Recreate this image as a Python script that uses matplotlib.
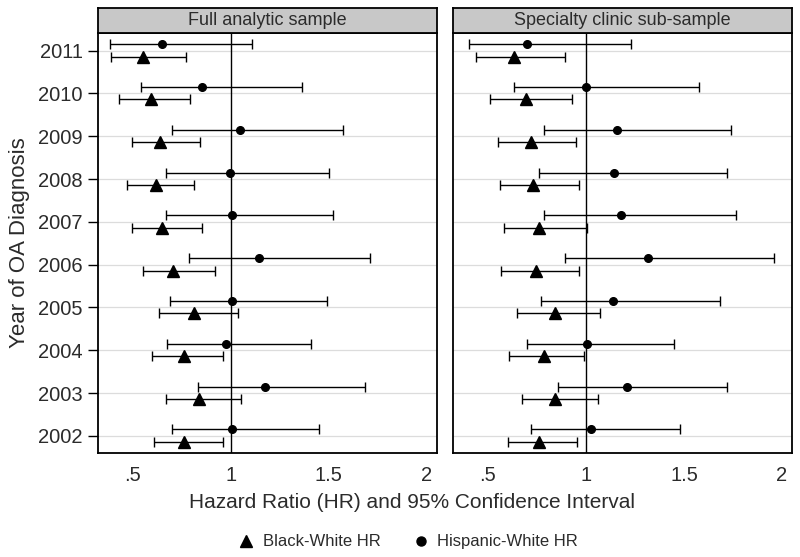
import numpy as np
import matplotlib.pyplot as plt

plt.rcParams['font.family'] = ['Liberation Sans', 'DejaVu Sans']

years = [2011, 2010, 2009, 2008, 2007, 2006, 2005, 2004, 2003, 2002]
panel_titles = ["Full analytic sample", "Specialty clinic sub-sample"]

# Full analytic sample
full_hisp_hr = [0.648, 0.855, 1.048, 0.997, 1.009, 1.146, 1.009, 0.978, 1.175, 1.009]
full_hisp_lo = [0.384, 0.541, 0.702, 0.672, 0.672, 0.786, 0.692, 0.675, 0.833, 0.702]
full_hisp_hi = [1.111, 1.366, 1.575, 1.503, 1.520, 1.711, 1.493, 1.410, 1.685, 1.452]
full_black_hr = [0.551, 0.594, 0.639, 0.621, 0.650, 0.707, 0.813, 0.760, 0.840, 0.760]
full_black_lo = [0.388, 0.430, 0.495, 0.469, 0.495, 0.551, 0.633, 0.599, 0.670, 0.609]
full_black_hi = [0.772, 0.791, 0.844, 0.813, 0.854, 0.922, 1.036, 0.963, 1.051, 0.963]

# Specialty clinic sub-sample
spec_hisp_hr = [0.699, 1.001, 1.157, 1.145, 1.179, 1.318, 1.138, 1.006, 1.210, 1.028]
spec_hisp_lo = [0.402, 0.631, 0.784, 0.760, 0.784, 0.892, 0.772, 0.700, 0.857, 0.719]
spec_hisp_hi = [1.230, 1.578, 1.741, 1.722, 1.768, 1.960, 1.682, 1.451, 1.722, 1.478]
spec_black_hr = [0.632, 0.692, 0.719, 0.731, 0.760, 0.743, 0.841, 0.785, 0.841, 0.760]
spec_black_lo = [0.439, 0.508, 0.551, 0.563, 0.580, 0.568, 0.649, 0.609, 0.673, 0.602]
spec_black_hi = [0.894, 0.930, 0.950, 0.963, 1.003, 0.963, 1.074, 0.991, 1.064, 0.952]

x_ticks = [0.5, 1, 1.5, 2]
x_ticklabels = [".5", "1", "1.5", "2"]

panels = [
    (full_hisp_hr, full_hisp_lo, full_hisp_hi, full_black_hr, full_black_lo, full_black_hi),
    (spec_hisp_hr, spec_hisp_lo, spec_hisp_hi, spec_black_hr, spec_black_lo, spec_black_hi),
]

fig = plt.figure(figsize=(8, 5.57), dpi=100)
text_col = '#2b2b2b'
lefts = [0.1225, 0.5666]
width = 0.4238
bottom = 0.1867
height = 0.754

y = np.array(years, dtype=float)
for i, (hh, hl, hu, bh, bl, bu) in enumerate(panels):
    ax = fig.add_axes([lefts[i], bottom, width, height])
    for yr in years:
        ax.axhline(yr, color='#dcdcdc', lw=0.9, zorder=0)
    ax.axvline(1, color='black', lw=1.0, zorder=1)

    hh, hl, hu = map(np.array, (hh, hl, hu))
    bh, bl, bu = map(np.array, (bh, bl, bu))
    ax.errorbar(hh, y + 0.15, xerr=[hh - hl, hu - hh], fmt='o', color='black',
                ms=5.5, elinewidth=1.0, capsize=3.5, capthick=1.0, zorder=3)
    ax.errorbar(bh, y - 0.14, xerr=[bh - bl, bu - bh], fmt='^', color='black',
                ms=9, elinewidth=1.0, capsize=3.5, capthick=1.0, zorder=3)

    ax.set_xlim(0.323, 2.053)
    ax.set_ylim(2001.6, 2011.41)
    ax.set_xticks(x_ticks)
    ax.set_xticklabels(x_ticklabels)
    ax.tick_params(axis='x', length=0, pad=9, labelsize=14.5, labelcolor=text_col)
    if i == 0:
        ax.set_yticks(years)
        ax.set_yticklabels([str(v) for v in years])
        ax.tick_params(axis='y', length=7, width=1.0, pad=4, labelsize=14.5,
                       labelcolor=text_col)
        ax.set_ylabel("Year of OA Diagnosis", fontsize=16, color=text_col, labelpad=6)
    else:
        ax.set_yticks([])
    for s in ax.spines.values():
        s.set_linewidth(1.3)

    # strip title
    strip = fig.add_axes([lefts[i], bottom + height, width, 25 / 557])
    strip.set_facecolor('#c8c8c8')
    strip.set_xticks([])
    strip.set_yticks([])
    for s in strip.spines.values():
        s.set_linewidth(1.3)
    strip.text(0.5, 0.5, panel_titles[i], ha='center', va='center',
               fontsize=13, color=text_col, transform=strip.transAxes)

fig.text(0.515, 0.098, "Hazard Ratio (HR) and 95% Confidence Interval",
         ha='center', va='center', fontsize=15, color=text_col)

h1 = plt.Line2D([], [], marker='^', color='black', ls='none', ms=9)
h2 = plt.Line2D([], [], marker='o', color='black', ls='none', ms=6.5)
leg = fig.legend([h1, h2], ["Black-White HR", "Hispanic-White HR"], loc='center',
                 bbox_to_anchor=(0.51, 0.027), ncol=2, frameon=False, fontsize=12,
                 columnspacing=1.9, handlelength=1.0, handletextpad=0.5)
for t in leg.get_texts():
    t.set_color(text_col)

fig.savefig("out.png", dpi=100)
